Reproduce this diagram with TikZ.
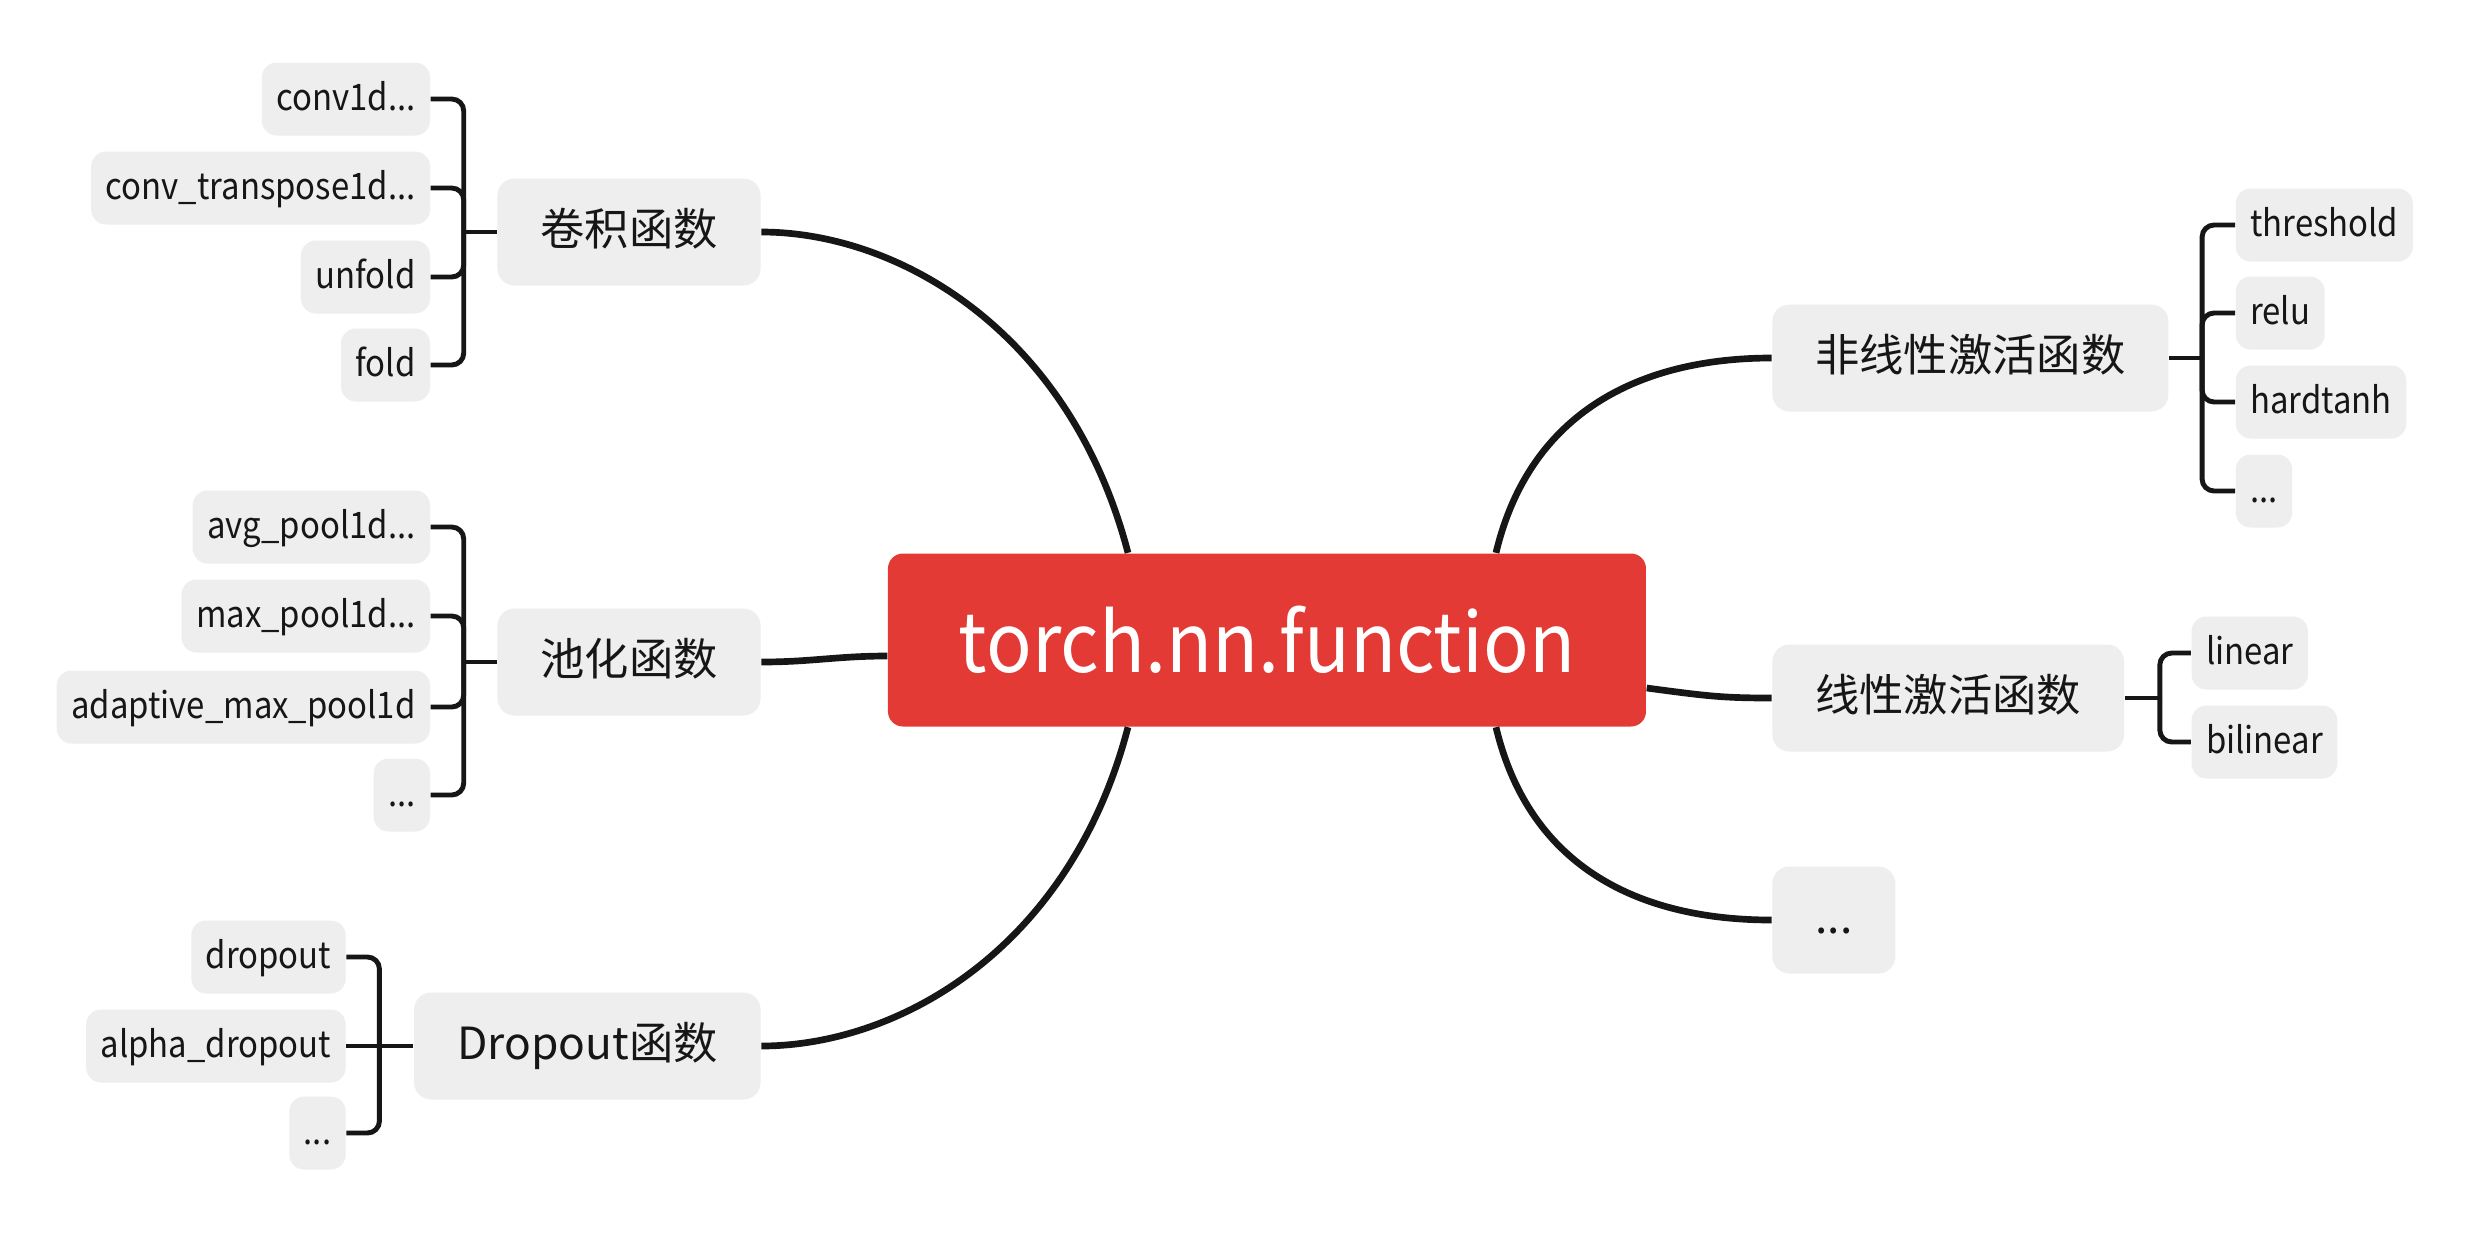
\documentclass[tikz,border=0pt]{standalone}
\usepackage{fontspec}
\setmainfont{Noto Sans CJK SC}
\newfontfamily\leaffont[FakeStretch=0.9]{Noto Sans CJK SC}
\newfontfamily\rootfont[FakeStretch=0.92]{Noto Sans CJK SC}
\usepackage{tikz}
\usetikzlibrary{positioning}
\definecolor{TorchRed}{RGB}{228,58,54}
\definecolor{TopicGray}{RGB}{238,238,238}
\definecolor{InkBlack}{RGB}{22,22,22}
\tikzset{
  rootnode/.style={fill=TorchRed,text=white,rounded corners=1.5mm,minimum width=7.58cm,minimum height=1.73cm,font=\rootfont\fontsize{23.4}{28}\selectfont},
  topicnode/.style={fill=TopicGray,text=InkBlack,rounded corners=1.7mm,inner xsep=4.3mm,minimum height=1.07cm,text height=0.88em,text depth=0.12em,font=\fontsize{12.6}{15}\selectfont},
  leafnode/.style={fill=TopicGray,text=InkBlack,rounded corners=1.5mm,inner xsep=1.45mm,minimum height=7.3mm,text height=0.9em,text depth=0.22em,font=\leaffont\fontsize{10.4}{12.5}\selectfont},
  branchline/.style={line width=1.9pt,draw=InkBlack},
  bracketline/.style={line width=1.4pt,draw=InkBlack,rounded corners=1.2mm}
}

\begin{document}
\begin{tikzpicture}
\path[use as bounding box,fill=white] (-12.67,-5.94) rectangle (12.12,6.40);

\node[rootnode] (root) at (0,0) {torch.nn.function};
\node[topicnode, left=1.26cm of root, yshift=4.08cm] (conv) {卷积函数};
\node[topicnode, left=1.26cm of root, yshift=-0.22cm] (pool) {池化函数};
\node[topicnode, left=1.26cm of root, yshift=-4.06cm] (drop) {Dropout函数};
\node[topicnode, right=1.25cm of root, yshift=2.82cm] (nonlin) {非线性激活函数};
\node[topicnode, right=1.25cm of root, yshift=-0.58cm] (lin) {线性激活函数};
\node[topicnode, right=1.25cm of root, yshift=-2.80cm] (more) {...};

\node[leafnode, left=0.66cm of conv, yshift=1.33cm] (conv1d) {conv1d...};
\node[leafnode, left=0.66cm of conv, yshift=0.44cm] (convtr) {conv\_transpose1d...};
\node[leafnode, left=0.66cm of conv, yshift=-0.45cm] (unfold) {unfold};
\node[leafnode, left=0.66cm of conv, yshift=-1.33cm] (fold) {fold};

\node[leafnode, left=0.66cm of pool, yshift=1.35cm] (avgpool) {avg\_pool1d...};
\node[leafnode, left=0.66cm of pool, yshift=0.46cm] (maxpool) {max\_pool1d...};
\node[leafnode, left=0.66cm of pool, yshift=-0.45cm] (adapool) {adaptive\_max\_pool1d};
\node[leafnode, left=0.66cm of pool, yshift=-1.33cm] (poolmore) {...};

\node[leafnode, left=0.67cm of drop, yshift=0.89cm] (dropout) {dropout};
\node[leafnode, left=0.67cm of drop] (alphadrop) {alpha\_dropout};
\node[leafnode, left=0.67cm of drop, yshift=-0.87cm] (dropmore) {...};

\node[leafnode, right=0.66cm of nonlin, yshift=1.33cm] (threshold) {threshold};
\node[leafnode, right=0.66cm of nonlin, yshift=0.45cm] (relu) {relu};
\node[leafnode, right=0.66cm of nonlin, yshift=-0.44cm] (hardtanh) {hardtanh};
\node[leafnode, right=0.66cm of nonlin, yshift=-1.33cm] (nonlinmore) {...};

\node[leafnode, right=0.66cm of lin, yshift=0.45cm] (linear) {linear};
\node[leafnode, right=0.66cm of lin, yshift=-0.44cm] (bilinear) {bilinear};

% main branches
\draw[branchline] ([xshift=-1.39cm]root.north) .. controls +(-0.58,2.22) and +(1.37,0) .. (conv.east);
\draw[branchline] ([yshift=-0.16cm]root.west) .. controls +(-0.5,0) and +(0.5,0) .. (pool.east);
\draw[branchline] ([xshift=-1.39cm]root.south) .. controls +(-0.58,-2.22) and +(1.37,0) .. (drop.east);
\draw[branchline] ([xshift=2.29cm]root.north) .. controls +(0.34,1.42) and +(-1.30,0) .. (nonlin.west);
\draw[branchline] ([yshift=-0.48cm]root.east) .. controls +(0.6,-0.08) and +(-0.5,0) .. (lin.west);
\draw[branchline] ([xshift=2.29cm]root.south) .. controls +(0.34,-1.42) and +(-1.30,0) .. (more.west);

% brackets
\draw[bracketline] (conv.west) -- ++(-0.33,0) coordinate (convj);
\draw[bracketline] (convj) |- (conv1d.east);
\draw[bracketline] (convj) |- (convtr.east);
\draw[bracketline] (convj) |- (unfold.east);
\draw[bracketline] (convj) |- (fold.east);

\draw[bracketline] (pool.west) -- ++(-0.33,0) coordinate (poolj);
\draw[bracketline] (poolj) |- (avgpool.east);
\draw[bracketline] (poolj) |- (maxpool.east);
\draw[bracketline] (poolj) |- (adapool.east);
\draw[bracketline] (poolj) |- (poolmore.east);

\draw[bracketline] (drop.west) -- ++(-0.34,0) coordinate (dropj);
\draw[bracketline] (dropj) |- (dropout.east);
\draw[bracketline] (dropj) -- (alphadrop.east);
\draw[bracketline] (dropj) |- (dropmore.east);

\draw[bracketline] (nonlin.east) -- ++(0.33,0) coordinate (nonlinj);
\draw[bracketline] (nonlinj) |- (threshold.west);
\draw[bracketline] (nonlinj) |- (relu.west);
\draw[bracketline] (nonlinj) |- (hardtanh.west);
\draw[bracketline] (nonlinj) |- (nonlinmore.west);

\draw[bracketline] (lin.east) -- ++(0.35,0) coordinate (linj);
\draw[bracketline] (linj) |- (linear.west);
\draw[bracketline] (linj) |- (bilinear.west);
\end{tikzpicture}
\end{document}
